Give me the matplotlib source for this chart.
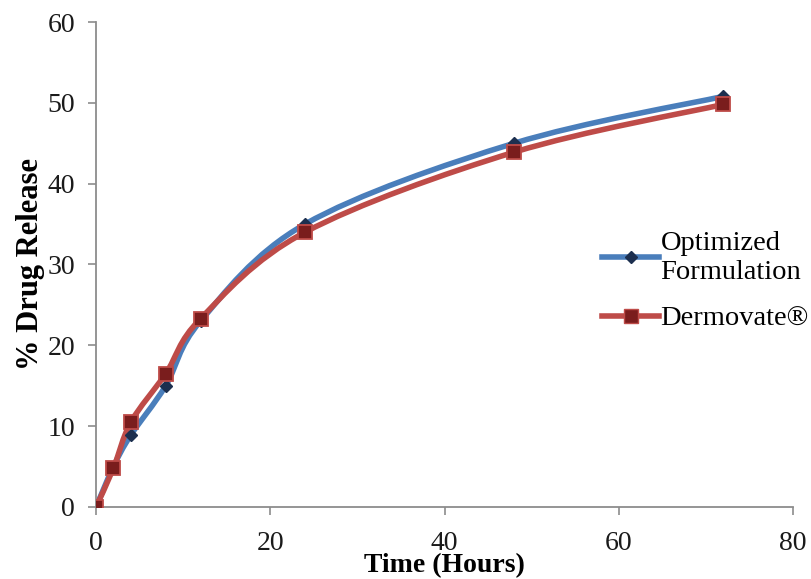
import matplotlib.pyplot as plt
import numpy as np
from matplotlib.path import Path
from matplotlib.patches import PathPatch

plt.rcParams['font.family'] = ['Liberation Serif', 'DejaVu Serif']

hours = [0, 2, 4, 8, 12, 24, 48, 72]
optimized = [0, 5.0, 8.9, 15.0, 23.0, 35.0, 45.0, 50.8]
dermovate = [0, 4.8, 10.5, 16.5, 23.3, 34.0, 43.9, 49.8]


def smooth_path(x, y, k=1/6):
    # cubic bezier through the points, Catmull-Rom style tangents
    x = np.asarray(x, float)
    y = np.asarray(y, float)
    verts = [(x[0], y[0])]
    codes = [Path.MOVETO]
    n = len(x)
    for i in range(n - 1):
        x0, y0 = (x[i - 1], y[i - 1]) if i > 0 else (x[i], y[i])
        x3, y3 = (x[i + 2], y[i + 2]) if i + 2 < n else (x[i + 1], y[i + 1])
        c1 = (x[i] + (x[i + 1] - x0) * k, y[i] + (y[i + 1] - y0) * k)
        c2 = (x[i + 1] - (x3 - x[i]) * k, y[i + 1] - (y3 - y[i]) * k)
        verts += [c1, c2, (x[i + 1], y[i + 1])]
        codes += [Path.CURVE4] * 3
    return Path(verts, codes)


fig = plt.figure(figsize=(8.11, 5.79), dpi=100)
ax = fig.add_axes([0.1184, 0.1244, 0.8594, 0.8376])

blue = '#4a7ebb'
red = '#be4b48'

ax.add_patch(PathPatch(smooth_path(hours, optimized), fill=False,
                       edgecolor=blue, lw=4, zorder=2))
ax.add_patch(PathPatch(smooth_path(hours, dermovate), fill=False,
                       edgecolor=red, lw=4, zorder=3))
ax.plot(hours, optimized, ls='none', marker='D', ms=6.5,
        color='#1c2f4f', zorder=4)
ax.plot(hours, dermovate, ls='none', marker='s', ms=10,
        markerfacecolor='#7a1d1d', markeredgecolor=red, mew=1.3, zorder=5)

# legend handles
ax.plot([], [], color=blue, lw=4, marker='D', ms=6.5,
        markerfacecolor='#1c2f4f', markeredgecolor='#1c2f4f',
        label='Optimized\nFormulation')
ax.plot([], [], color=red, lw=4, marker='s', ms=10,
        markerfacecolor='#7a1d1d', markeredgecolor=red, label='Dermovate®')

ax.set_xlim(0, 80)
ax.set_ylim(0, 60)
ax.set_xticks([0, 20, 40, 60, 80])
ax.set_yticks(range(0, 61, 10))
for s in ['top', 'right']:
    ax.spines[s].set_visible(False)
for s in ['left', 'bottom']:
    ax.spines[s].set_color('#8c8c8c')
    ax.spines[s].set_linewidth(1.3)
ax.tick_params(direction='out', length=6, width=1.2, color='#8c8c8c',
               labelsize=20, labelcolor='#1a1a1a')
ax.tick_params(axis='x', pad=11)
ax.tick_params(axis='y', pad=9)

ax.set_xlabel('Time (Hours)', fontsize=20, fontweight='bold', labelpad=-2)
ax.set_ylabel('% Drug Release', fontsize=22, fontweight='bold', labelpad=2)

leg = ax.legend(loc='center left', bbox_to_anchor=(0.71, 0.465), frameon=False,
                fontsize=20.5, handlelength=2.0, handletextpad=0.05,
                labelspacing=0.75, borderaxespad=0)

fig.savefig('out.png', dpi=100)
